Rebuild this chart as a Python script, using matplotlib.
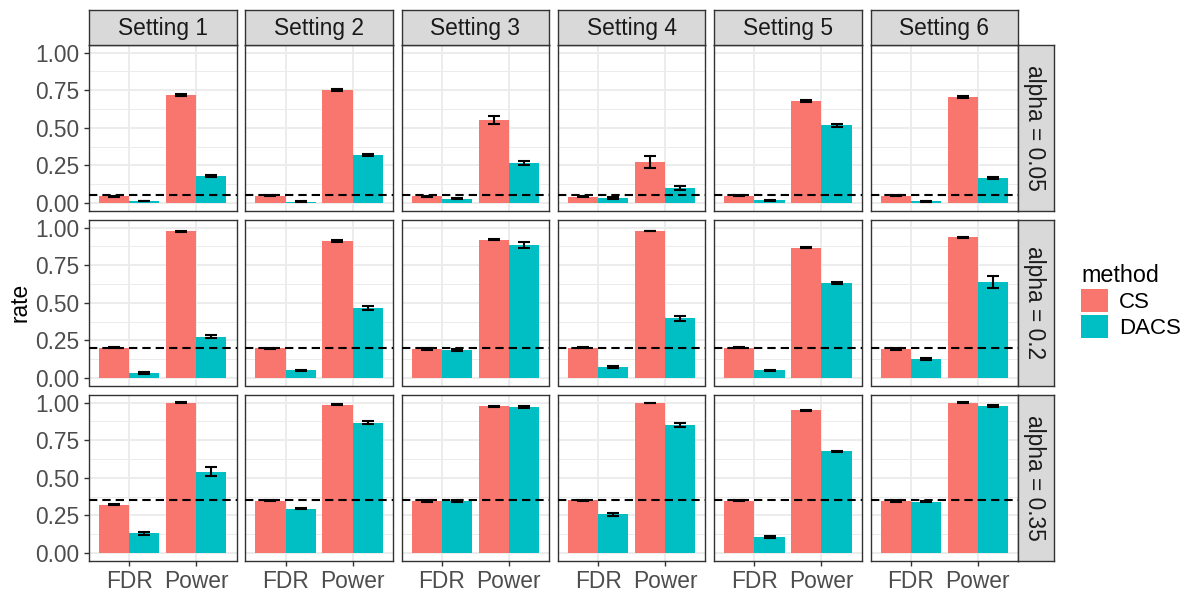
import numpy as np
import matplotlib
matplotlib.use("Agg")
import matplotlib.pyplot as plt
from matplotlib.patches import Patch

plt.rcParams['font.family'] = ['Liberation Sans', 'DejaVu Sans']

settings = ['Setting 1', 'Setting 2', 'Setting 3', 'Setting 4', 'Setting 5', 'Setting 6']
alphas = [0.05, 0.2, 0.35]
alpha_labels = ['alpha = 0.05', 'alpha = 0.2', 'alpha = 0.35']
metrics = ['FDR', 'Power']
methods = ['CS', 'DACS']
method_colors = ['#F8766D', '#00BFC4']

# rows = alpha level, columns = setting
cs_fdr = [[0.045, 0.047, 0.045, 0.042, 0.048, 0.048],
          [0.200, 0.197, 0.193, 0.202, 0.200, 0.193],
          [0.320, 0.348, 0.345, 0.350, 0.348, 0.345]]
dacs_fdr = [[0.013, 0.008, 0.028, 0.033, 0.018, 0.010],
            [0.033, 0.050, 0.183, 0.072, 0.050, 0.125],
            [0.130, 0.295, 0.345, 0.257, 0.105, 0.340]]
cs_power = [[0.715, 0.750, 0.550, 0.272, 0.680, 0.705],
            [0.975, 0.910, 0.920, 0.977, 0.865, 0.935],
            [1.000, 0.985, 0.975, 0.998, 0.948, 1.000]]
dacs_power = [[0.180, 0.320, 0.265, 0.100, 0.515, 0.165],
              [0.275, 0.465, 0.883, 0.397, 0.630, 0.640],
              [0.540, 0.865, 0.970, 0.850, 0.675, 0.975]]

cs_fdr_se = [[0.004, 0.003, 0.004, 0.005, 0.003, 0.003],
             [0.004, 0.004, 0.005, 0.003, 0.004, 0.004],
             [0.004, 0.004, 0.005, 0.003, 0.004, 0.004]]
dacs_fdr_se = [[0.003, 0.002, 0.004, 0.004, 0.002, 0.002],
               [0.005, 0.005, 0.007, 0.005, 0.004, 0.008],
               [0.012, 0.006, 0.005, 0.010, 0.006, 0.004]]
cs_power_se = [[0.007, 0.005, 0.025, 0.042, 0.006, 0.006],
               [0.003, 0.004, 0.005, 0.003, 0.004, 0.005],
               [0.002, 0.003, 0.003, 0.002, 0.003, 0.002]]
dacs_power_se = [[0.008, 0.008, 0.015, 0.015, 0.008, 0.008],
                 [0.012, 0.015, 0.018, 0.018, 0.007, 0.040],
                 [0.030, 0.010, 0.004, 0.015, 0.006, 0.006]]

W, H = 1200, 600
fig = plt.figure(figsize=(12, 6), dpi=100)

col_left = [89 + i * 156.3 for i in range(6)]
panel_w = 147.5
row_top = [45, 220, 395]
panel_h = 165.5
border = '#333333'
fs = 16.4

def px(x, y, w, h):
    return [x / W, 1 - (y + h) / H, w / W, h / H]

bar_w = 0.45
x_pos = np.arange(1, len(metrics) + 1)

for r in range(3):
    for c in range(6):
        ax = fig.add_axes(px(col_left[c], row_top[r], panel_w, panel_h))
        ax.set_xlim(0.4, 2.6)
        ax.set_ylim(-0.05, 1.05)
        ax.set_yticks([0, 0.25, 0.5, 0.75, 1.0])
        ax.set_yticks([0.125, 0.375, 0.625, 0.875], minor=True)
        ax.set_xticks(x_pos)
        ax.grid(True, which='major', color='#EBEBEB', lw=1.3, zorder=0)
        ax.grid(True, which='minor', axis='y', color='#EBEBEB', lw=0.7, zorder=0)
        ax.set_axisbelow(True)

        means = [[cs_fdr[r][c], cs_power[r][c]], [dacs_fdr[r][c], dacs_power[r][c]]]
        ses = [[cs_fdr_se[r][c], cs_power_se[r][c]], [dacs_fdr_se[r][c], dacs_power_se[r][c]]]
        for m in range(2):
            xs = x_pos + (m - 0.5) * bar_w
            ax.bar(xs, means[m], width=bar_w, color=method_colors[m], zorder=2)
            ax.errorbar(xs, means[m], yerr=ses[m], fmt='none', ecolor='black',
                        elinewidth=1.5, capsize=4.5, capthick=1.5, zorder=3)
        ax.axhline(alphas[r], color='black', lw=1.5, ls=(0, (4, 2.4)), zorder=4)

        for s in ax.spines.values():
            s.set_color(border)
            s.set_linewidth(1.0)
        ax.tick_params(which='major', length=3.5, width=1.0, color=border,
                       labelcolor='#4D4D4D', labelsize=fs)
        ax.tick_params(which='minor', length=0)
        if c == 0:
            ax.set_yticklabels(['0.00', '0.25', '0.50', '0.75', '1.00'])
        else:
            ax.tick_params(axis='y', which='major', length=0, labelleft=False)
        if r == 2:
            ax.set_xticklabels(metrics)
        else:
            ax.tick_params(axis='x', which='major', length=0, labelbottom=False)

# top strips
for c in range(6):
    sax = fig.add_axes(px(col_left[c], 10, panel_w, 34.5))
    sax.set_facecolor('#D9D9D9')
    sax.set_xticks([])
    sax.set_yticks([])
    for s in sax.spines.values():
        s.set_color(border)
        s.set_linewidth(1.0)
    sax.text(0.5, 0.47, settings[c], ha='center', va='center', fontsize=fs,
             color='#1A1A1A', transform=sax.transAxes)

# right strips
for r in range(3):
    sax = fig.add_axes(px(col_left[5] + panel_w, row_top[r], 36, panel_h))
    sax.set_facecolor('#D9D9D9')
    sax.set_xticks([])
    sax.set_yticks([])
    for s in sax.spines.values():
        s.set_color(border)
        s.set_linewidth(1.0)
    sax.text(0.47, 0.5, alpha_labels[r], ha='center', va='center', fontsize=fs,
             color='#1A1A1A', rotation=-90, transform=sax.transAxes)

fig.text(20 / W, 1 - 302 / H, 'rate', rotation=90, ha='center', va='center',
         fontsize=fs, color='black')

handles = [Patch(facecolor=method_colors[i], edgecolor='none', label=methods[i]) for i in range(2)]
leg = fig.legend(handles=handles, title='method', loc='upper left',
                 bbox_to_anchor=(1061 / W, 1 - 244 / H), frameon=False,
                 fontsize=16, title_fontsize=16.8, handlelength=1.22, handleheight=1.2,
                 handletextpad=0.5, labelspacing=0.1, alignment='left')

fig.savefig('out.png', dpi=100)
